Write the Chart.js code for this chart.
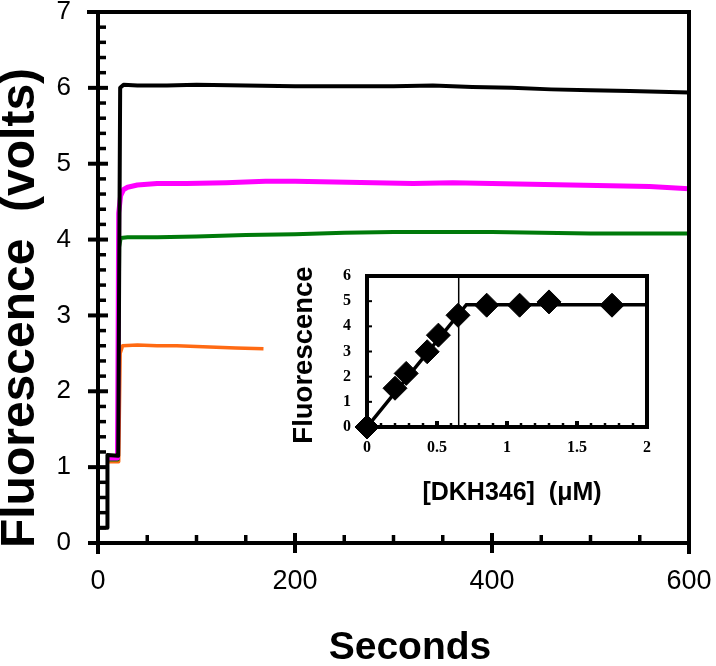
<!DOCTYPE html>
<html><head><meta charset="utf-8">
<script src="https://cdn.jsdelivr.net/npm/chart.js@4/dist/chart.umd.min.js"></script>
<style>
html,body{margin:0;padding:0;background:#fff;}
#wrap{position:relative;width:716px;height:666px;overflow:hidden;background:#fff;}
canvas{position:absolute;}
</style>
</head><body>
<div id="wrap">
<canvas id="main" width="716" height="666" style="left:0;top:0"></canvas>
<canvas id="inset" width="420" height="250" style="left:270px;top:258px"></canvas>
</div>
<script>
// ---------- Main chart data (time in seconds, fluorescence in volts) ----------
const blackT   = [0, 9.6, 9.6, 20.5, 22.5, 26, 40, 70, 100, 150, 200, 250, 300, 340, 380, 420, 460, 500, 540, 570, 600];
const blackV   = [0.2, 0.2, 1.16, 1.15, 6.0, 6.04, 6.03, 6.03, 6.04, 6.03, 6.02, 6.02, 6.02, 6.03, 6.01, 6.00, 5.98, 5.97, 5.96, 5.95, 5.94];
const magentaT = [9.6, 19.8, 21, 23, 26, 30, 40, 60, 90, 130, 170, 200, 240, 280, 320, 360, 400, 440, 480, 520, 560, 600];
const magentaV = [1.12, 1.12, 4.35, 4.58, 4.66, 4.69, 4.72, 4.74, 4.74, 4.75, 4.77, 4.77, 4.76, 4.75, 4.74, 4.75, 4.74, 4.73, 4.72, 4.71, 4.70, 4.67];
const greenT   = [9.6, 20, 21.5, 23, 30, 60, 100, 150, 200, 250, 300, 350, 400, 450, 500, 550, 600];
const greenV   = [1.1, 1.1, 3.9, 4.02, 4.03, 4.03, 4.04, 4.06, 4.07, 4.09, 4.10, 4.10, 4.10, 4.09, 4.08, 4.08, 4.08];
const orangeT  = [9.6, 21, 22.5, 25, 40, 60, 80, 100, 120, 140, 168];
const orangeV  = [1.07, 1.07, 2.5, 2.6, 2.61, 2.6, 2.6, 2.59, 2.58, 2.57, 2.56];
const mainXTicks = ['0', '200', '400', '600'];
const mainYTicks = ['0', '1', '2', '3', '4', '5', '6', '7'];

// ---------- Inset data ([DKH346] in µM vs fluorescence) ----------
const insetConc  = [0, 0.2, 0.28, 0.43, 0.51, 0.65, 0.855, 1.09, 1.30, 1.75];
const insetFluor = [0, 1.54, 2.13, 2.99, 3.65, 4.44, 4.84, 4.84, 4.97, 4.84];
const fitX = [0, 0.71, 2];
const fitY = [0, 4.86, 4.86];
const equivX = [0.655, 0.655];
const equivY = [0, 6];
const insetXTicks = ['0', '0.5', '1', '1.5', '2'];
const insetYTicks = ['0', '1', '2', '3', '4', '5', '6'];

const SANS = "'Liberation Sans', Arial, sans-serif";
const SERIF = "'Liberation Serif', 'Times New Roman', serif";
function pts(t, v) { return t.map((x, i) => ({ x: x, y: v[i] })); }
function seg(ctx, x1, y1, x2, y2, w) {
  ctx.lineWidth = w; ctx.beginPath(); ctx.moveTo(x1, y1); ctx.lineTo(x2, y2); ctx.stroke();
}

const mainDecor = {
  id: 'mainDecor',
  afterDatasetsDraw(chart) {
    const ctx = chart.ctx, x = chart.scales.x, y = chart.scales.y;
    const L = x.getPixelForValue(0), R = x.getPixelForValue(600);
    const B = y.getPixelForValue(0), T = y.getPixelForValue(7);
    ctx.save();
    ctx.strokeStyle = '#000';
    ctx.lineCap = 'butt';
    for (let k = 1; k < 35; k++) {
      if (k % 5 === 0) continue;
      const py = y.getPixelForValue(k * 0.2);
      seg(ctx, L, py, L + 8, py, 3.5);
    }
    for (let k = 1; k < 12; k++) {
      if (k % 4 === 0) continue;
      const px = x.getPixelForValue(k * 50);
      seg(ctx, px, B, px, B - 8, 3.5);
    }
    for (let v = 0; v <= 6; v++) {
      const py = y.getPixelForValue(v);
      seg(ctx, L - 10, py, L + 10, py, 4);
    }
    for (let v = 0; v <= 400; v += 200) {
      const px = x.getPixelForValue(v);
      seg(ctx, px, B - 10, px, B + 10, 4);
    }
    ctx.lineCap = 'square';
    seg(ctx, L, T, L, B + 9, 4);
    seg(ctx, L, B, R, B, 4);
    seg(ctx, L - 9, T, R, T, 4);
    seg(ctx, R, T, R, B + 9, 4);
    ctx.restore();
  },
  afterDraw(chart) {
    const ctx = chart.ctx;
    ctx.save();
    ctx.fillStyle = '#000';
    ctx.textAlign = 'center';
    ctx.textBaseline = 'middle';
    ctx.font = 'bold 39px ' + SANS;
    ctx.fillText('Seconds', 410, 648);
    ctx.translate(21, 308);
    ctx.rotate(-Math.PI / 2);
    ctx.font = 'bold 48px ' + SANS;
    ctx.fillText('Fluorescence  (volts)', 0, 0);
    ctx.restore();
  }
};

new Chart(document.getElementById('main'), {
  type: 'line',
  data: {
    datasets: [
      { data: pts(blackT, blackV), borderColor: '#000000', borderWidth: 4 },
      { data: pts(magentaT, magentaV), borderColor: '#ff00ff', borderWidth: 5 },
      { data: pts(greenT, greenV), borderColor: '#007a0a', borderWidth: 4 },
      { data: pts(orangeT, orangeV), borderColor: '#ff6a13', borderWidth: 3.5 }
    ]
  },
  options: {
    responsive: false, animation: false, devicePixelRatio: 1,
    layout: { padding: { top: 12, right: 27, left: 0, bottom: 0 } },
    elements: { point: { radius: 0 }, line: { tension: 0, borderJoinStyle: 'round' } },
    plugins: { legend: { display: false }, tooltip: { enabled: false } },
    scales: {
      x: {
        type: 'linear', min: 0, max: 600,
        grid: { display: false, drawTicks: true, tickLength: 22 }, border: { display: false },
        ticks: { stepSize: 200, padding: 0, color: '#000', font: { family: SANS, size: 27 },
                 callback: (v, i) => mainXTicks[i] },
        afterFit: s => { s.height = 123; }
      },
      y: {
        min: 0, max: 7,
        grid: { display: false, drawTicks: true, tickLength: 27 }, border: { display: false },
        ticks: { stepSize: 1, padding: 0, color: '#000', font: { family: SANS, size: 26, lineHeight: 0.8 },
                 callback: (v, i) => mainYTicks[i] },
        afterFit: s => { s.width = 98; }
      }
    }
  },
  plugins: [mainDecor]
});

const insetDecor = {
  id: 'insetDecor',
  afterDatasetsDraw(chart) {
    const ctx = chart.ctx, x = chart.scales.x, y = chart.scales.y;
    const L = x.getPixelForValue(0), R = x.getPixelForValue(2);
    const B = y.getPixelForValue(0), T = y.getPixelForValue(6);
    ctx.save();
    ctx.strokeStyle = '#000';
    ctx.lineCap = 'butt';
    for (let k = 1; k < 20; k++) {
      const px = x.getPixelForValue(k * 0.1);
      if (k % 5 === 0) seg(ctx, px, B, px, B - 6, 4);
      else seg(ctx, px, B, px, B - 4, 2.5);
    }
    for (let v = 1; v < 6; v++) {
      const py = y.getPixelForValue(v);
      seg(ctx, L, py, L + 5, py, 2);
    }
    ctx.lineCap = 'square';
    seg(ctx, L, T, L, B, 4);
    seg(ctx, L, B, R, B, 4);
    seg(ctx, L, T, R, T, 4);
    seg(ctx, R, T, R, B, 4);
    ctx.restore();
  },
  afterDraw(chart) {
    const ctx = chart.ctx;
    ctx.save();
    ctx.fillStyle = '#000';
    ctx.textAlign = 'center';
    ctx.textBaseline = 'middle';
    ctx.font = 'bold 25px ' + SANS;
    ctx.fillText('[DKH346]  (\u03bcM)', 242, 235);
    ctx.translate(34, 97);
    ctx.rotate(-Math.PI / 2);
    ctx.font = 'bold 27.5px ' + SANS;
    ctx.fillText('Fluorescence', 0, 0);
    ctx.restore();
  }
};

new Chart(document.getElementById('inset'), {
  type: 'line',
  data: {
    datasets: [
      { data: pts(insetConc, insetFluor), showLine: false, pointStyle: 'rectRot', pointRadius: 12,
        pointBackgroundColor: '#000', pointBorderColor: '#000', pointBorderWidth: 1, clip: false },
      { data: pts(fitX, fitY), borderColor: '#000', borderWidth: 3.5, pointRadius: 0 },
      { data: pts(equivX, equivY), borderColor: '#000', borderWidth: 1.5, pointRadius: 0 }
    ]
  },
  options: {
    responsive: false, animation: false, devicePixelRatio: 1,
    layout: { padding: { top: 18, right: 43, left: 0, bottom: 0 } },
    elements: { line: { tension: 0 } },
    plugins: { legend: { display: false }, tooltip: { enabled: false } },
    scales: {
      x: {
        type: 'linear', min: 0, max: 2,
        grid: { display: false, drawTicks: true, tickLength: 11 }, border: { display: false },
        ticks: { stepSize: 0.5, padding: 0, color: '#000', font: { family: SERIF, size: 16, weight: 'bold' },
                 callback: (v, i) => insetXTicks[i] },
        afterFit: s => { s.height = 81; }
      },
      y: {
        min: 0, max: 6,
        grid: { display: false, drawTicks: true, tickLength: 16 }, border: { display: false },
        ticks: { stepSize: 1, padding: 0, color: '#000', font: { family: SERIF, size: 16, weight: 'bold' },
                 callback: (v, i) => insetYTicks[i] },
        afterFit: s => { s.width = 97; }
      }
    }
  },
  plugins: [insetDecor]
});
</script>
</body></html>
